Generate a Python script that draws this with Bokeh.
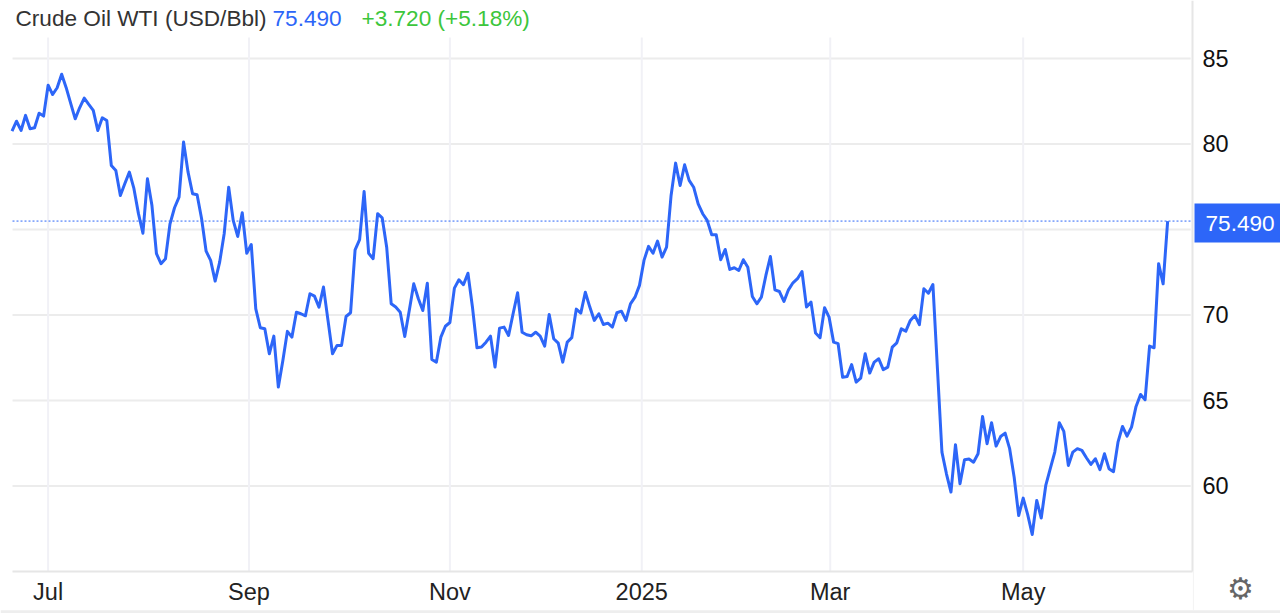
from bokeh.embed import file_html
from bokeh.resources import INLINE
from bokeh.plotting import figure
from bokeh.models import Label, FixedTicker, Range1d

prices = [
    80.75, 81.33, 80.79, 81.67, 80.89, 80.95, 81.80, 81.63, 83.44, 82.89, 83.29, 84.08, 83.29, 82.37, 81.47, 82.13,
    82.68, 82.31, 81.96, 80.79, 81.53, 81.37, 78.74, 78.45, 76.99, 77.69, 78.35, 77.40,
    75.94, 74.78, 77.96, 76.40, 73.58, 73.00, 73.29, 75.33, 76.27, 76.89, 80.11, 78.35, 77.09, 77.03, 75.63,
    73.73, 73.19, 71.98, 73.09, 74.75, 77.47, 75.53, 74.59, 75.98, 73.61, 74.12, 70.36, 69.25, 69.19, 67.73,
    68.76, 65.78, 67.34, 69.04, 68.70, 70.16, 70.07, 69.95, 71.24, 71.10, 70.46, 71.63, 69.68, 67.73, 68.22,
    68.22, 69.91, 70.13, 73.81, 74.40, 77.22, 73.61, 73.29, 75.92, 75.68, 73.96, 70.65, 70.46, 70.16, 68.74,
    70.26, 71.82, 70.96,
    70.26, 71.86, 67.40, 67.24, 68.70, 69.34, 69.56, 71.57, 72.06, 71.77, 72.44, 70.46, 68.08, 68.12, 68.41,
    68.76, 66.95, 69.23, 69.29, 68.80, 70.07, 71.30, 68.99, 68.84, 68.78, 68.99, 68.76, 68.18, 70.03, 68.61,
    68.35, 67.24, 68.41, 68.67, 70.34, 70.11, 71.33, 70.46, 69.68, 70.07, 69.44, 69.52, 69.29, 70.13, 70.22,
    69.68, 70.65, 71.04, 71.73, 73.19, 74.01, 73.61, 74.32, 73.38, 73.96, 76.99, 78.88, 77.57, 78.78, 77.87,
    77.47, 76.50, 75.92, 75.53, 74.69, 74.69, 73.23,
    73.83, 72.66, 72.76, 72.60, 73.23, 72.79, 71.08, 70.65, 71.04, 72.31, 73.42, 71.47, 71.37, 70.79, 71.47,
    71.88, 72.12, 72.54, 70.46, 70.75, 68.94, 68.67, 70.42, 69.87, 68.41, 68.32, 66.36, 66.40, 67.10, 66.07,
    66.30, 67.73, 66.60, 67.24, 67.44, 66.80, 66.95, 68.12, 68.37, 69.19, 69.05, 69.68, 69.97, 69.43, 71.53,
    71.27, 71.78,
    66.87, 61.98, 60.71, 59.64, 62.41, 60.13, 61.53, 61.57, 61.39, 61.88, 64.06, 62.47, 63.70, 62.33, 62.89,
    63.09, 62.18, 60.51, 58.27, 59.29, 58.32, 57.16, 59.15, 58.12, 60.03, 61.01, 61.98, 63.70, 63.19, 61.20,
    61.98, 62.18, 62.08, 61.65, 61.26, 61.59, 60.95, 61.88, 61.01, 60.83, 62.56, 63.48, 62.91, 63.44, 64.65,
    65.35, 65.04, 68.18, 68.08, 73.00, 71.82, 75.49,
]
days = list(range(len(prices)))
x_tick_pos = [8, 52.5, 97, 139.5, 181.25, 224]
x_tick_labels = ["Jul", "Sep", "Nov", "2025", "Mar", "May"]
y_ticks = [60, 65, 70, 75, 80, 85]
title_text = "Crude Oil WTI (USD/Bbl)"
last_value = 75.49
last_text = "75.490"
change_text = "+3.720 (+5.18%)"

BLUE = "#2d66f8"
GREEN = "#3cc63c"
FONT = "Liberation Sans"
GRID_H = "#ececec"
GRID_V = "#f1f1f6"
AXIS = "#e6e6e6"

X_L, X_R, Y_B, Y_T = 0.11, 261.5, 55.0, 88.39

p = figure(width=1280, height=613, output_backend="svg", toolbar_location=None,
           x_range=Range1d(-2.55, 281.0), y_range=Range1d(52.54, Y_T),
           y_axis_location="right", min_border_left=0, min_border_right=0,
           min_border_top=0, min_border_bottom=0, outline_line_color=None,
           background_fill_color="white", border_fill_color="white")

p.xgrid.grid_line_color = None
p.ygrid.grid_line_color = None

p.segment(x0=[X_L] * 6, x1=[X_R - 0.4] * 6, y0=y_ticks, y1=y_ticks,
          line_color=GRID_H, line_width=2, level="underlay")
p.segment(x0=x_tick_pos, x1=x_tick_pos, y0=[Y_B] * 6, y1=[86.23] * 6,
          line_color=GRID_V, line_width=2, level="underlay")
p.segment(x0=[-2.55], x1=[281.0], y0=[52.62], y1=[52.62], line_color="#eeeeee", line_width=4, level="underlay")
p.segment(x0=[X_R + 0.2], x1=[X_R + 0.2], y0=[52.75], y1=[Y_B], line_color="#f3f3f3", line_width=1, level="underlay")

xa = p.xaxis[0]
xa.fixed_location = Y_B
xa.bounds = (X_L, X_R)
xa.ticker = FixedTicker(ticks=x_tick_pos)
xa.major_label_overrides = dict(zip(x_tick_pos, x_tick_labels))
xa.major_tick_line_color = None
xa.minor_tick_line_color = None
xa.axis_line_color = AXIS
xa.axis_line_width = 2
xa.major_label_text_font = FONT
xa.major_label_text_font_size = "23.5px"
xa.major_label_text_color = "#222222"
xa.major_label_standoff = 2

ya = p.yaxis[0]
ya.fixed_location = X_R
ya.bounds = (Y_B, Y_T)
ya.ticker = FixedTicker(ticks=y_ticks)
ya.major_label_overrides = {75: ""}
ya.major_tick_line_color = None
ya.minor_tick_line_color = None
ya.axis_line_color = AXIS
ya.axis_line_width = 2
ya.major_label_text_font = FONT
ya.major_label_text_font_size = "23.5px"
ya.major_label_text_color = "#111111"
ya.major_label_standoff = 4

p.line(days, prices, line_color=BLUE, line_width=3, line_join="round")

p.segment(x0=[X_L], x1=[X_R], y0=[last_value], y1=[last_value],
          line_color=BLUE, line_width=1, line_dash="2 2")

def top_label(text, x, color):
    p.add_layout(Label(x=x, y=595.5, x_units="screen", y_units="screen", text=text,
                       text_font=FONT, text_font_size="22.6px", text_color=color,
                       text_baseline="middle"))

top_label(title_text, 15, "#333333")
top_label(last_text, 272, BLUE)
top_label(change_text, 361, GREEN)

p.add_layout(Label(x=1194, y=last_value, x_units="screen", y_units="data", text=last_text,
                   y_offset=-2, text_font=FONT, text_font_size="22.6px", text_color="white",
                   text_baseline="middle", background_fill_color=BLUE, padding=(11, 12)))

p.add_layout(Label(x=1240, y=25, x_units="screen", y_units="screen", text="\u2699",
                   text_font="DejaVu Sans", text_font_size="30px", text_color="#666666",
                   text_align="center", text_baseline="middle"))

open("out.html", "w").write(file_html(p, INLINE))
